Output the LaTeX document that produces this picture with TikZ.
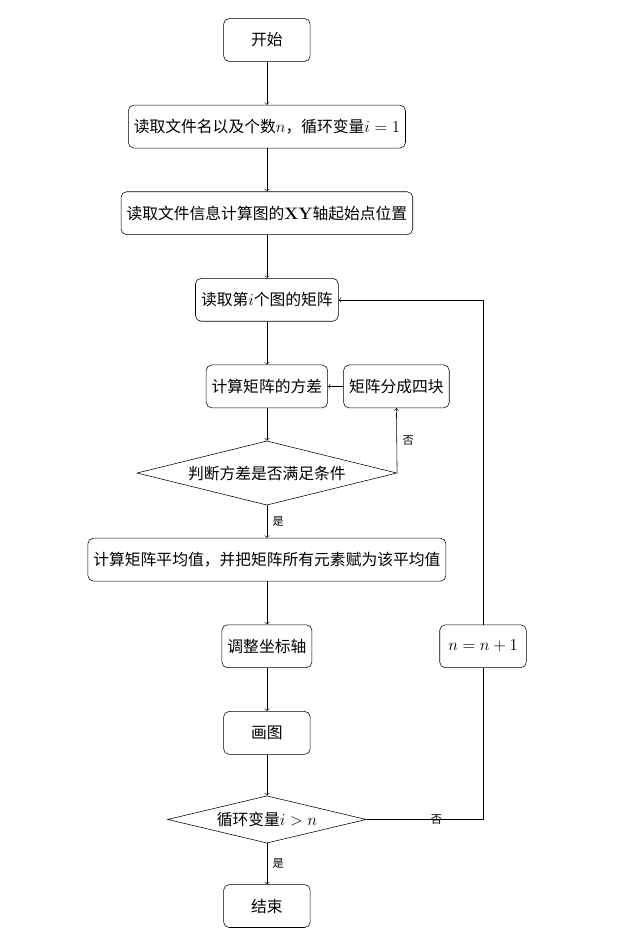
\documentclass[12pt,tikz,border=0pt]{standalone}
\usepackage{fontspec}
\newfontfamily\cjk[Scale=0.95]{Noto Sans CJK SC}
\usetikzlibrary{positioning,shapes.geometric}
\begin{document}
\begin{tikzpicture}[node distance=2.2cm, on grid, font=\cjk, >=to,
    box/.style={draw, rounded corners, minimum width=2.2cm, minimum height=1.09cm},
    decide/.style={draw, diamond, aspect=4, inner sep=1pt},
    lbl/.style={font=\cjk\fontsize{8.5}{10}\selectfont}]
  \useasboundingbox (-6.78,1.016) rectangle (8.89,-23.04);
  \node[box] (start) {开始};
  \node[box, below=of start] (read) {读取文件名以及个数$n$，循环变量$i=1$};
  \node[box, below=of read] (axis) {读取文件信息计算图的{\rmfamily\bfseries XY}轴起始点位置};
  \node[box, below=of axis] (matrix) {读取第$i$个图的矩阵};
  \node[box, below=of matrix] (var) {计算矩阵的方差};
  \node[box, right=3.29cm of var] (split) {矩阵分成四块};
  \node[decide, below=of var, minimum width=6.6cm, minimum height=1.63cm] (check) {判断方差是否满足条件};
  \node[box, below=of check] (mean) {计算矩阵平均值，并把矩阵所有元素赋为该平均值};
  \node[box, below=of mean] (adjust) {调整坐标轴};
  \node[box, right=5.49cm of adjust] (incr) {$n=n+1$};
  \node[box, below=of adjust] (plot) {画图};
  \node[decide, below=of plot, minimum width=5.05cm, minimum height=1.2cm] (loop) {循环变量$i>n$};
  \node[box, below=of loop] (finish) {结束};
  \foreach \a/\b in {start/read, read/axis, axis/matrix, matrix/var, var/check, mean/adjust, adjust/plot, plot/loop, split/var}
    \draw[->] (\a) -- (\b);
  \draw[->] (check) -- node[lbl, right] {是} (mean);
  \draw[->] (loop) -- node[lbl, right] {是} (finish);
  \draw[->] (check.east) -- node[lbl, right] {否} (split.south);
  \draw (loop.east) -| node[lbl, pos=0.3] {否} (incr.south);
  \draw[->] (incr.north) |- (matrix.east);
\end{tikzpicture}
\end{document}
